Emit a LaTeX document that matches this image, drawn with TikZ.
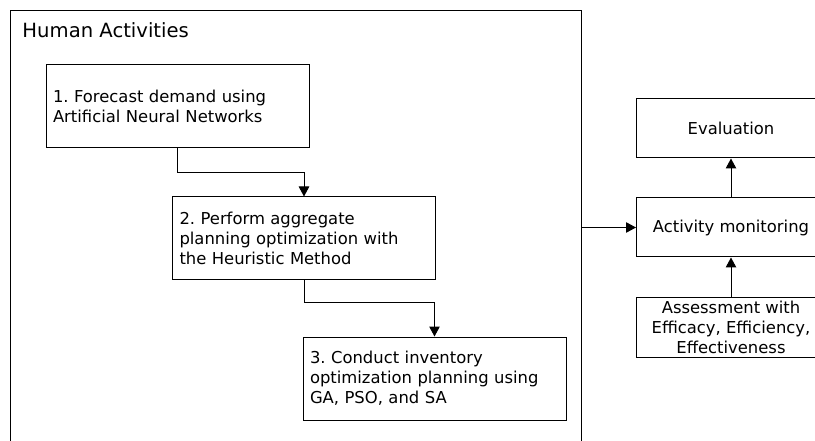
\documentclass[tikz,border=0pt]{standalone}
\usepackage{fontspec}
\setmainfont{DejaVu Sans}
\usetikzlibrary{arrows.meta,calc}
\frenchspacing

\begin{document}
\begin{tikzpicture}[x=1pt,y=-1pt,line width=1pt,
    box/.style={draw,rectangle,minimum width=263pt,minimum height=83pt,
      text width=249pt,align=left,font=\fontsize{16.4}{20}\selectfont},
    sidebox/.style={draw,rectangle,minimum width=189pt,minimum height=59pt,
      align=center,font=\fontsize{16.4}{20}\selectfont},
    arr/.style={-{Triangle[length=10pt,width=10.5pt]}}]
\clip (0,0) rectangle (815,441);

% frame round the human activities
\path
(295.5,235.5) node[draw,rectangle,minimum width=571pt,minimum height=449pt](human) {}
(22,30) node[anchor=west,inner sep=0pt,font=\fontsize{19.6}{22}\selectfont](title) {Human Activities};

\path
(177.5,106.5) node[box](s1) {1. Forecast demand using\\Artificial Neural Networks}
(304,238.5) node[box](s2) {2. Perform aggregate\\planning optimization with\\the Heuristic Method}
(434.5,378.5) node[box](s3) {3. Conduct inventory\\optimization planning using\\GA, PSO, and SA}
(731,128.5) node[sidebox](eval) {Evaluation}
(731,227.5) node[sidebox](monitor) {Activity monitoring}
(731,327.5) node[sidebox](assess) {Assessment with\\Efficacy, Efficiency,\\Effectiveness};

\draw[arr] (s1.south) |- ($(s1.south)!0.5!(s2.north)$) -| (s2.north);
\draw[arr] (s2.south) |- ($(s2.south)!0.4!(s3.north)$) -| (s3.north);

\draw[arr] (monitor -| human.east) -- (monitor.west);
\draw[arr] (monitor) -- (eval);
\draw[arr] (assess) -- (monitor);
\end{tikzpicture}
\end{document}
